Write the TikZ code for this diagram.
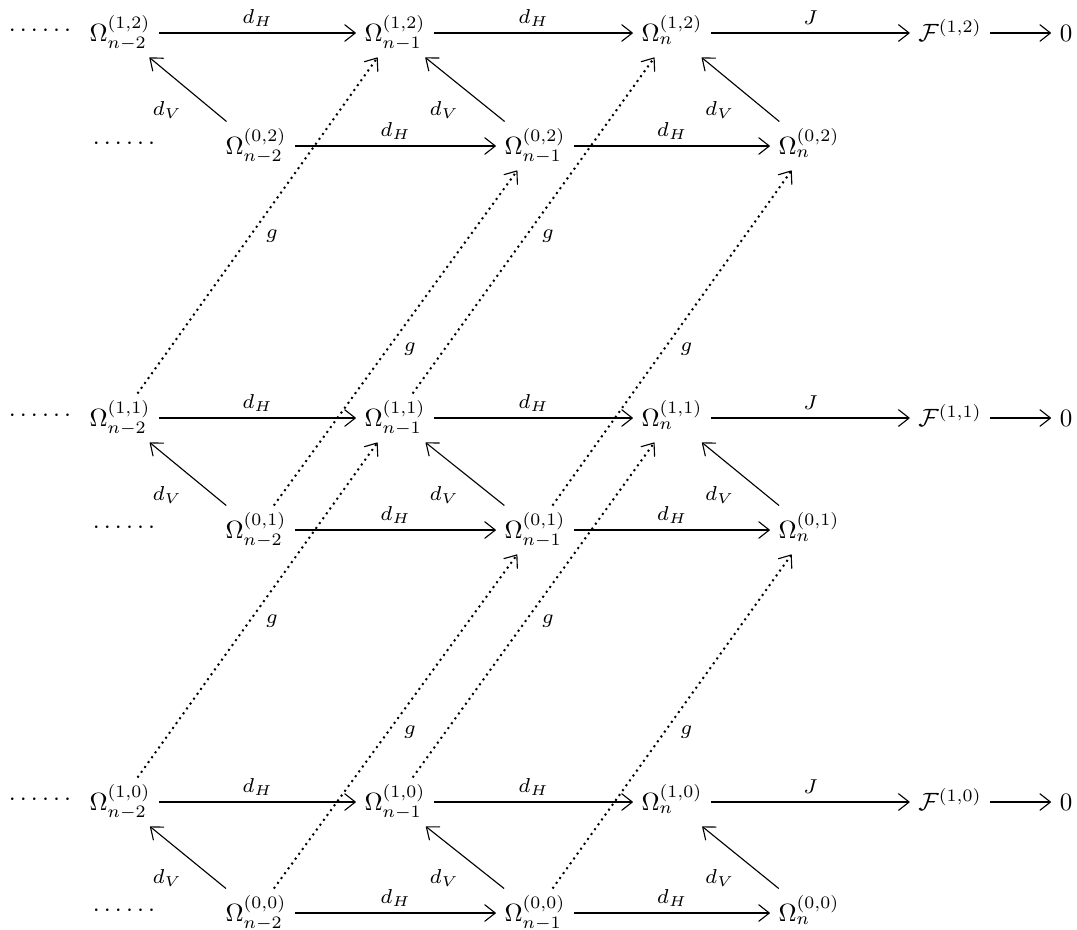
\documentclass[tikz,border=0pt]{standalone}
\usetikzlibrary{arrows.meta}
\begin{document}
\begin{tikzpicture}[x=0.4pt,y=-0.4pt]
\tikzset{
  om/.style={inner xsep=3.5pt, inner ysep=2.8pt, text height=10.5pt, text depth=3.5pt, outer sep=0pt},
  dotsnode/.style={inner sep=0pt},
  tipcm/.style={-{Straight Barb[length=4.2pt,width=6.6pt,line width=0.45pt,round]}},
  har/.style={tipcm, line width=0.75pt},
  dvar/.style={tipcm, line width=0.45pt},
  gar/.style={tipcm, line width=0.8pt, dash pattern=on 0.8pt off 1.6pt},
  lab/.style={inner sep=0pt, scale=1.15},
  hlab/.style={lab, midway, yshift=5.2pt},
  vlab/.style={lab, midway, xshift=-7.2pt, yshift=-7.2pt},
  glab/.style={lab, midway, xshift=5pt, yshift=-3.8pt}
}
\useasboundingbox (0,0) rectangle (1077,929);
\foreach \k/\yt/\yb in {2/33/146, 1/418/530, 0/802/913} {
  % top row (1,k)
  \node[dotsnode] (td\k) at (40,\yt-2.5) {$\cdotp\cdotp\cdotp\cdotp\cdotp\cdotp$};
  \node[om] (t\k-a) at (120,\yt) {$\Omega^{(1,\k)}_{n-2}$};
  \node[om] (t\k-b) at (395,\yt) {$\Omega^{(1,\k)}_{n-1}$};
  \node[om] (t\k-c) at (672,\yt) {$\Omega^{(1,\k)}_{n}$};
  \node[om] (t\k-f) at (950,\yt) {$\mathcal{F}^{(1,\k)}$};
  \node[om] (t\k-z) at (1066,\yt) {$0$};
  % bottom row (0,k)
  \node[dotsnode] (bd\k) at (124,\yb-2.5) {$\cdotp\cdotp\cdotp\cdotp\cdotp\cdotp$};
  \node[om] (b\k-a) at (256,\yb) {$\Omega^{(0,\k)}_{n-2}$};
  \node[om] (b\k-b) at (535,\yb) {$\Omega^{(0,\k)}_{n-1}$};
  \node[om] (b\k-c) at (809,\yb) {$\Omega^{(0,\k)}_{n}$};
  % horizontal arrows
  \draw[har] (t\k-a) -- node[hlab] {$\scriptstyle d_H$} (t\k-b);
  \draw[har] (t\k-b) -- node[hlab] {$\scriptstyle d_H$} (t\k-c);
  \draw[har] (t\k-c) -- node[hlab] {$\scriptstyle J$} (t\k-f);
  \draw[har] (t\k-f) -- (t\k-z);
  \draw[har] (b\k-a) -- node[hlab] {$\scriptstyle d_H$} (b\k-b);
  \draw[har] (b\k-b) -- node[hlab] {$\scriptstyle d_H$} (b\k-c);
  % vertical differentials
  \draw[dvar] (b\k-a) -- node[vlab] {$\scriptstyle d_V$} (t\k-a);
  \draw[dvar] (b\k-b) -- node[vlab] {$\scriptstyle d_V$} (t\k-b);
  \draw[dvar] (b\k-c) -- node[vlab] {$\scriptstyle d_V$} (t\k-c);
}
% dotted g arrows
\foreach \lo/\hi in {1/2, 0/1} {
  \draw[gar] (t\lo-a) -- node[glab] {$\scriptstyle g$} (t\hi-b);
  \draw[gar] (t\lo-b) -- node[glab] {$\scriptstyle g$} (t\hi-c);
  \draw[gar] (b\lo-a) -- node[glab] {$\scriptstyle g$} (b\hi-b);
  \draw[gar] (b\lo-b) -- node[glab] {$\scriptstyle g$} (b\hi-c);
}
\end{tikzpicture}
\end{document}
